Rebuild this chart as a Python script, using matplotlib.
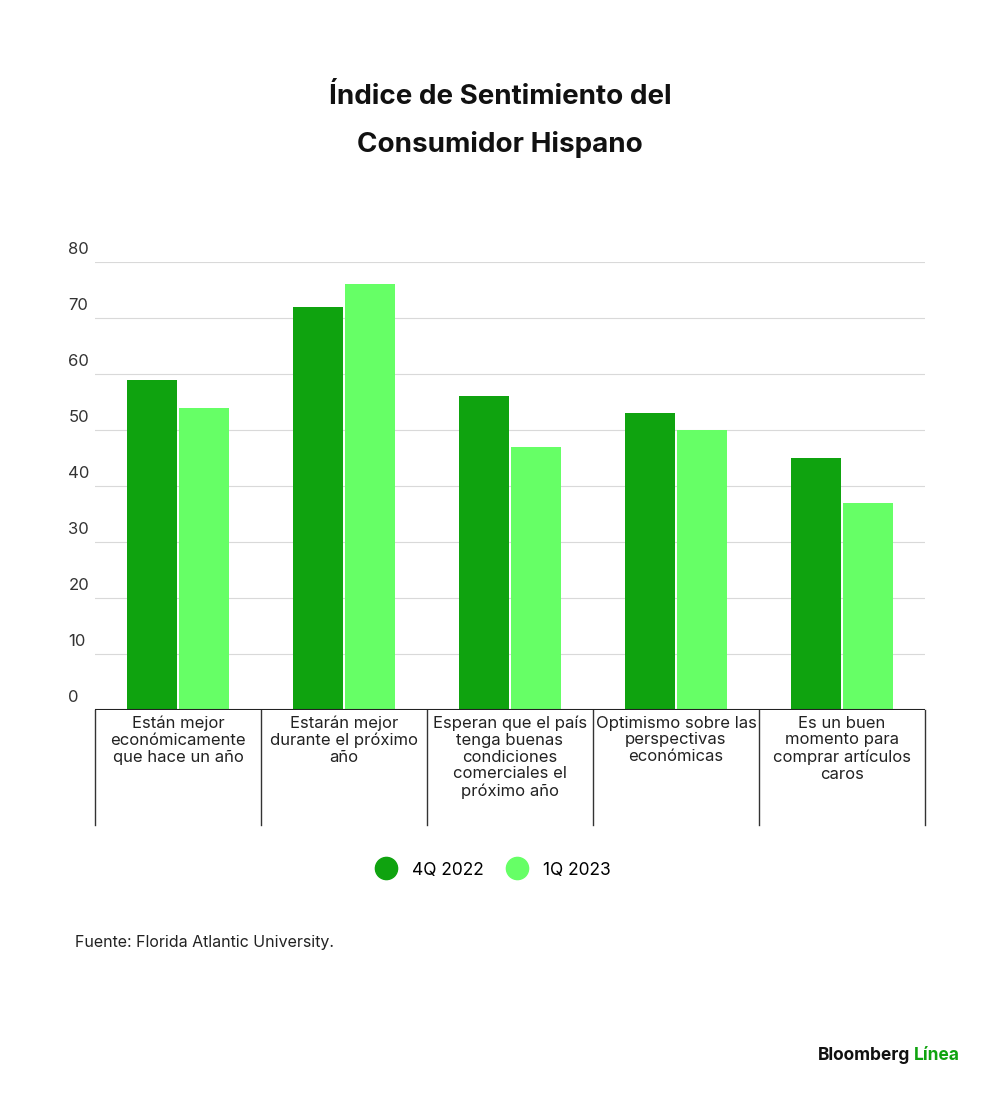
import matplotlib
matplotlib.use("Agg")
import matplotlib.pyplot as plt
import numpy as np

categories = ["Están mejor\neconómicamente\nque hace un año",
              "Estarán mejor\ndurante el próximo\naño",
              "Esperan que el país\ntenga buenas\ncondiciones\ncomerciales el\npróximo año",
              "Optimismo sobre las\nperspectivas\neconómicas",
              "Es un buen\nmomento para\ncomprar artículos\ncaros"]
series_names = ["4Q 2022", "1Q 2023"]
q4_2022 = [59, 72, 56, 53, 45]
q1_2023 = [54, 76, 47, 50, 37]
yticks = [0, 10, 20, 30, 40, 50, 60, 70, 80]

dark, light = "#0fa30f", "#66ff66"
plt.rcParams['font.family'] = ['Inter', 'DejaVu Sans']
fig = plt.figure(figsize=(10, 11), dpi=100)
ax = fig.add_axes([0.095, 1 - 710/1100, 0.83, (710-262)/1100])
x = np.arange(len(categories))
w = 0.3
ax.bar(x - w/2 - 0.006, q4_2022, w, color=dark, label=series_names[0], zorder=3)
ax.bar(x + w/2 + 0.006, q1_2023, w, color=light, label=series_names[1], zorder=3)
ax.set_xlim(-0.5, len(categories) - 0.5)
ax.set_ylim(0, 80)
for t in yticks:
    if t > 0:
        ax.axhline(t, color="#d9d9d9", lw=0.8, zorder=1)
    ax.text(-0.66, t + 0.9, str(t), fontsize=12, color="#333333", ha="left", va="bottom")
for s in ax.spines.values():
    s.set_visible(False)
ax.axhline(0, color="#222222", lw=1.5, zorder=4)
ax.set_xticks([]); ax.set_yticks([])
for b in np.arange(-0.5, len(categories), 1.0):
    ax.plot([b, b], [0, -20.5], color="#333333", lw=1, clip_on=False)
for i, c in enumerate(categories):
    ax.text(i, -1.0, c, ha="center", va="top", fontsize=12, color="#222222", linespacing=1.15)

fig.text(0.5, 0.905, "Índice de Sentimiento del", ha="center", fontsize=20, fontweight="bold", color="#111111")
fig.text(0.5, 0.862, "Consumidor Hispano", ha="center", fontsize=20, fontweight="bold", color="#111111")

from matplotlib.lines import Line2D
handles = [Line2D([], [], marker="o", ls="", markersize=16, color=dark),
           Line2D([], [], marker="o", ls="", markersize=16, color=light)]
fig.legend(handles, series_names, loc="center", bbox_to_anchor=(0.49, 1 - 870/1100), ncol=2,
           frameon=False, fontsize=12.5, handletextpad=0.5, columnspacing=0.9)
fig.text(0.075, 1 - 942/1100, "Fuente: Florida Atlantic University.", fontsize=11.5, color="#222222", va="center")
fig.text(0.818, 1 - 1055/1100, "Bloomberg", fontsize=12.5, fontweight="bold", color="#111111", va="center")
fig.text(0.914, 1 - 1055/1100, "Línea", fontsize=12.5, fontweight="bold", color="#0fa30f", va="center")
fig.savefig("out.png", dpi=100, facecolor="white")
